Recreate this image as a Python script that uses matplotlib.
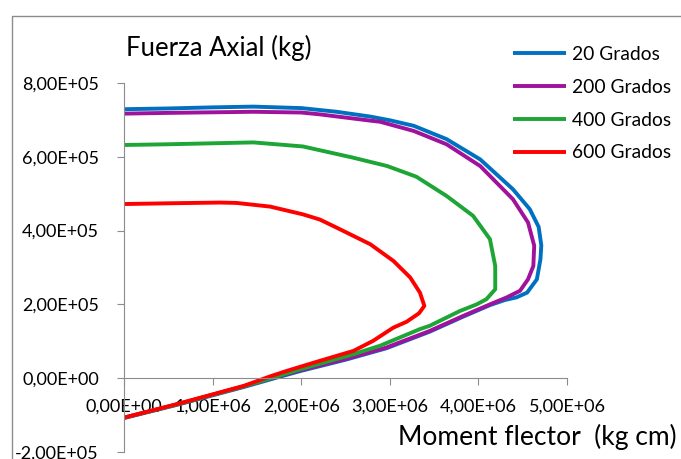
import matplotlib
matplotlib.use("Agg")
import matplotlib.pyplot as plt
from matplotlib.patches import Rectangle

# ---- data ----
x_20 = [0, 0.5e6, 1.0e6, 1.46e6, 2.0e6, 2.4e6, 2.78e6, 3.0e6, 3.27e6, 3.64e6, 4.02e6, 4.39e6, 4.58e6, 4.68e6,
        4.71e6, 4.70e6, 4.66e6, 4.55e6, 4.43e6, 4.3e6, 4.13e6, 3.83e6, 3.45e6, 2.96e6, 2.5e6, 2.0e6, 1.7e6,
        1.35e6, 0.6e6, 0]
y_20 = [7.29e5, 7.31e5, 7.34e5, 7.36e5, 7.32e5, 7.22e5, 7.09e5, 6.99e5, 6.84e5, 6.48e5, 5.93e5, 5.12e5, 4.58e5, 4.1e5,
        3.6e5, 3.22e5, 2.68e5, 2.32e5, 2.19e5, 2.12e5, 1.98e5, 1.67e5, 1.26e5, 0.81e5, 0.5e5, 0.2e5, 0.0,
        -0.24e5, -0.72e5, -1.08e5]

x_200 = [0, 0.5e6, 1.46e6, 2.0e6, 2.21e6, 2.78e6, 2.89e6, 3.27e6, 3.64e6, 4.02e6, 4.39e6, 4.56e6, 4.63e6, 4.62e6,
         4.56e6, 4.47e6, 4.32e6, 4.13e6, 3.83e6, 3.45e6, 2.96e6, 2.5e6, 2.0e6, 1.7e6, 1.35e6, 0.6e6, 0]
y_200 = [7.17e5, 7.19e5, 7.22e5, 7.2e5, 7.15e5, 6.98e5, 6.95e5, 6.70e5, 6.34e5, 5.75e5, 4.85e5, 4.22e5, 3.59e5, 3.04e5,
         2.68e5, 2.37e5, 2.19e5, 2.0e5, 1.69e5, 1.28e5, 0.83e5, 0.52e5, 0.22e5, 0.02e5, -0.22e5, -0.71e5, -1.07e5]

x_400 = [0, 0.5e6, 1.46e6, 2.02e6, 2.58e6, 2.97e6, 3.3e6, 3.64e6, 3.94e6, 4.13e6, 4.19e6, 4.19e6, 4.09e6, 3.98e6,
         3.79e6, 3.68e6, 3.45e6, 3.34e6, 2.89e6, 2.59e6, 2.0e6, 1.7e6, 1.35e6, 0.6e6, 0]
y_400 = [6.32e5, 6.34e5, 6.39e5, 6.28e5, 5.98e5, 5.75e5, 5.46e5, 4.94e5, 4.40e5, 3.77e5, 3.04e5, 2.41e5, 2.14e5, 2.0e5,
         1.82e5, 1.69e5, 1.42e5, 1.33e5, 0.88e5, 0.65e5, 0.25e5, 0.03e5, -0.22e5, -0.71e5, -1.07e5]

x_600 = [0, 0.5e6, 1.08e6, 1.27e6, 1.65e6, 2.02e6, 2.21e6, 2.40e6, 2.78e6, 3.04e6, 3.23e6, 3.34e6, 3.39e6, 3.33e6,
         3.19e6, 3.04e6, 2.81e6, 2.59e6, 2.21e6, 1.84e6, 1.65e6, 1.35e6, 0.6e6, 0]
y_600 = [4.72e5, 4.74e5, 4.76e5, 4.75e5, 4.65e5, 4.44e5, 4.3e5, 4.08e5, 3.63e5, 3.18e5, 2.73e5, 2.32e5, 1.96e5, 1.76e5,
         1.53e5, 1.37e5, 1.01e5, 0.74e5, 0.47e5, 0.2e5, 0.05e5, -0.21e5, -0.7e5, -1.07e5]

series_names = ["20 Grados", "200 Grados", "400 Grados", "600 Grados"]
series_colors = ["#0070C0", "#A0119C", "#1DA535", "#FF0000"]

x_ticks = [0, 1e6, 2e6, 3e6, 4e6, 5e6]
x_tick_labels = ["0,00E+00", "1,00E+06", "2,00E+06", "3,00E+06", "4,00E+06", "5,00E+06"]
y_ticks = [-2e5, 0, 2e5, 4e5, 6e5, 8e5]
y_tick_labels = ["-2,00E+05", "0,00E+00", "2,00E+05", "4,00E+05", "6,00E+05", "8,00E+05"]

plt.rcParams['font.family'] = ['Lato', 'DejaVu Sans']

W, H = 681, 459
fig = plt.figure(figsize=(W / 100, H / 100), dpi=100)
fig.patch.set_facecolor("white")

# outer chart frame (left & top visible)
fig.patches.append(Rectangle((12 / W, -0.1), 1.2, 1 - 16 / H + 0.1, transform=fig.transFigure,
                             fill=False, edgecolor="#8c8c8c", linewidth=1.0))

x0, x1 = 124, 567
y0, y1 = 83, 452
ax = fig.add_axes([x0 / W, 1 - y1 / H, (x1 - x0) / W, (y1 - y0) / H])
ax.set_xlim(0, 5e6)
ax.set_ylim(-2e5, 8e5)
ax.patch.set_alpha(0)

data = [(x_20, y_20), (x_200, y_200), (x_400, y_400), (x_600, y_600)]
handles = []
for (xs, ys), name, c in zip(data, series_names, series_colors):
    h, = ax.plot(xs, ys, color=c, lw=2.8, solid_capstyle="butt", solid_joinstyle="round", label=name)
    handles.append(h)

for s in ["top", "right"]:
    ax.spines[s].set_visible(False)
ax.spines["left"].set_color("#8c8c8c")
ax.spines["bottom"].set_color("#8c8c8c")
ax.spines["bottom"].set_position(("data", 0))

ax.set_xticks(x_ticks)
ax.set_xticklabels(x_tick_labels)
ax.set_yticks(y_ticks)
ax.set_yticklabels(y_tick_labels)
ax.tick_params(axis="x", direction="out", length=5, color="#8c8c8c", pad=10, labelsize=13)
ax.tick_params(axis="y", direction="out", length=5, color="#8c8c8c", pad=13, labelsize=13)

fig.text(126 / W, 1 - 48 / H, "Fuerza Axial (kg)", fontsize=18.5, va="center", ha="left")
fig.text(677 / W, 1 - 437 / H, "Moment flector  (kg cm)", fontsize=19, va="center", ha="right")

leg = fig.legend(handles=handles, loc="upper left", bbox_to_anchor=(513 / W, 1 - 46 / H),
                 frameon=False, fontsize=13.9, handlelength=2.75, handletextpad=0.3, labelspacing=0.82,
                 borderaxespad=0, borderpad=0)

fig.savefig("out.png", dpi=100, facecolor="white")
